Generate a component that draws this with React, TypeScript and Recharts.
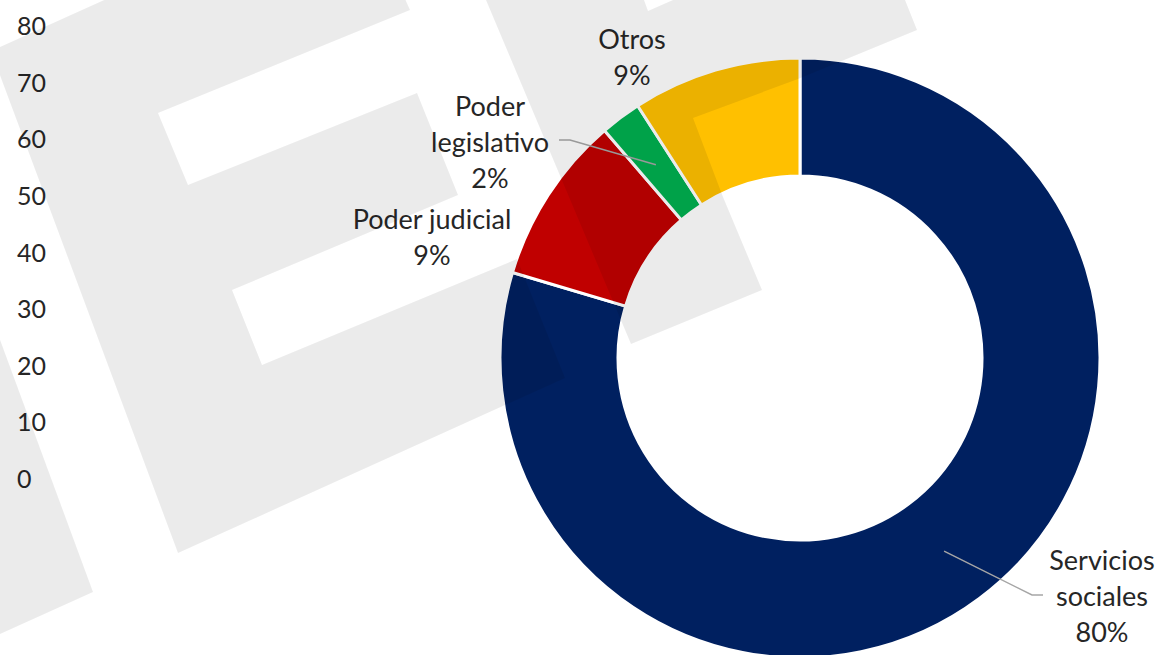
import { BarChart, XAxis, YAxis, PieChart, Pie, Cell } from 'recharts'

const categories = ['Servicios sociales', 'Poder judicial', 'Poder legislativo', 'Otros']
const shares = [79.6, 9.1, 2.2, 9.1]
const sliceColors = ['#002060', '#C00000', '#00B050', '#FFC000']
const labelLines = [['Servicios', 'sociales'], ['Poder judicial'], ['Poder', 'legislativo'], ['Otros']]
const axisTicks = [0, 10, 20, 30, 40, 50, 60, 70, 80]

const slices = categories.map((name, i) => ({ name, value: shares[i] }))

const W = 1158
const H = 655
const FONT = 'Lato, "Noto Sans", sans-serif'
const TEXT = '#262626'

// where Excel put each label block (centre of first line) and the leader elbow
const labelLayout = [
  { x: 1102, y: 559, elbow: [[1043, 595], [1032, 595]] },
  { x: 432, y: 218 },
  { x: 490, y: 105, elbow: [[559, 140], [570, 140]] },
  { x: 632, y: 38 },
]
const LINE_H = 36

// background watermark, drawn over the chart as a light grey veil
const watermark = [
  [[-300, -10], [-129, -10], [93, 592], [0, 634], [-300, 769]],
  [[-9, 51], [355, -113], [410, 10], [158, 113], [188, 185], [417, 93], [458, 195], [232, 290], [262, 365], [517, 259], [565, 378], [178, 553]],
  [[486, 0], [644, 0], [648, 11], [673, 0], [905, 0], [917, 30], [798, 79], [693, 118], [723, 197], [762, 290], [631, 344]],
]

const RAD = Math.PI / 180

function renderLabel(props: any) {
  const { cx, cy, midAngle, innerRadius, outerRadius, percent, index } = props
  const pos = labelLayout[index]
  const lines = [...labelLines[index], `${Math.round(percent * 100)}%`]
  const r = (Number(innerRadius) + Number(outerRadius)) / 2
  const sx = Number(cx) + r * Math.cos(-midAngle * RAD)
  const sy = Number(cy) + r * Math.sin(-midAngle * RAD)
  return (
    <g key={`lbl-${index}`}>
      {pos.elbow && (
        <polyline
          points={`${pos.elbow[0][0]},${pos.elbow[0][1]} ${pos.elbow[1][0]},${pos.elbow[1][1]} ${sx},${sy}`}
          fill="none"
          stroke="#A6A6A6"
          strokeWidth={1.5}
        />
      )}
      {lines.map((t, i) => (
        <text
          key={i}
          x={pos.x}
          y={pos.y + i * LINE_H}
          textAnchor="middle"
          dominantBaseline="central"
          fill={TEXT}
          fontSize={27}
          fontFamily={FONT}
        >
          {t}
        </text>
      ))}
    </g>
  )
}

function AxisTick({ y, payload }: any) {
  return (
    <text x={17} y={y} textAnchor="start" dominantBaseline="central" fill={TEXT} fontSize={25} fontFamily={FONT}>
      {payload.value}
    </text>
  )
}

export default function App() {
  return (
    <div style={{ position: 'absolute', left: 0, top: 0, width: W, height: H, overflow: 'hidden', background: '#fff' }}>
      <div style={{ position: 'absolute', left: 0, top: 0 }}>
        <BarChart width={W} height={H} data={slices} margin={{ top: 25, right: 0, bottom: 177, left: 0 }}>
          <XAxis dataKey="name" hide />
          <YAxis
            type="number"
            domain={[0, 80]}
            ticks={axisTicks}
            allowDataOverflow
            axisLine={false}
            tickLine={false}
            width={60}
            tick={<AxisTick />}
          />
        </BarChart>
      </div>
      <div style={{ position: 'absolute', left: 0, top: 0 }}>
        <PieChart width={W} height={H} margin={{ top: 0, right: 0, bottom: 0, left: 0 }}>
          <Pie
            data={slices}
            dataKey="value"
            nameKey="name"
            cx={800}
            cy={358}
            innerRadius={182}
            outerRadius={300}
            startAngle={90}
            endAngle={-270}
            stroke="#fff"
            strokeWidth={3}
            label={renderLabel}
            labelLine={false}
            isAnimationActive={false}
          >
            {slices.map((s, i) => (
              <Cell key={s.name} fill={sliceColors[i]} />
            ))}
          </Pie>
        </PieChart>
      </div>
      <svg width={W} height={H} style={{ position: 'absolute', left: 0, top: 0, pointerEvents: 'none' }}>
        {watermark.map((poly, i) => (
          <polygon key={i} points={poly.map((p) => p.join(',')).join(' ')} fill="#000" fillOpacity={0.078} />
        ))}
      </svg>
    </div>
  )
}
